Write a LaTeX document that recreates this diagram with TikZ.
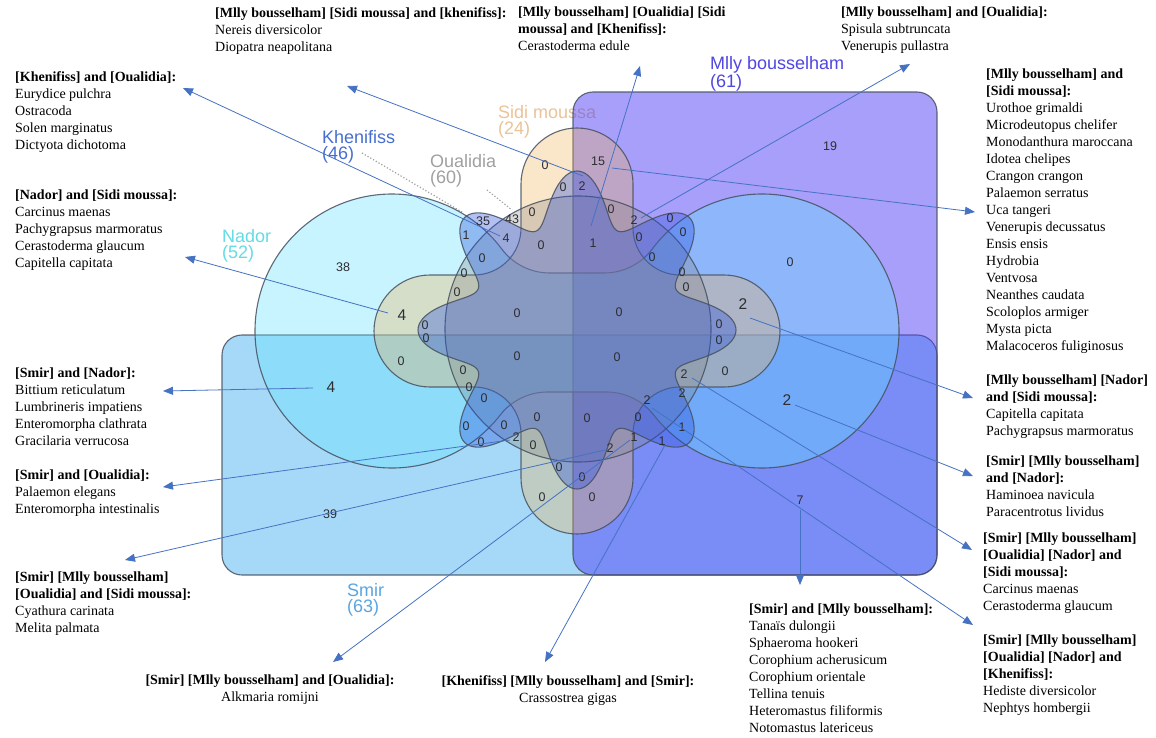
\documentclass[tikz,border=0pt]{standalone}
\usepackage{fontspec}
\setmainfont{Liberation Serif}
\newfontfamily\lsansfont{Liberation Sans}
\usetikzlibrary{arrows.meta}
\definecolor{mllyc}{RGB}{81,65,245}
\definecolor{smirc}{RGB}{77,181,241}
\definecolor{nadorc}{RGB}{98,226,255}
\definecolor{sidic}{RGB}{242,180,92}
\definecolor{oualc}{RGB}{128,128,128}
\definecolor{khenc}{RGB}{40,80,220}
\definecolor{edgec}{RGB}{70,80,95}
\definecolor{arrc}{RGB}{70,114,196}
\definecolor{numc}{RGB}{45,45,50}
\definecolor{lblsidi}{RGB}{235,195,150}
\definecolor{lblmlly}{RGB}{80,70,225}
\definecolor{lblkhen}{RGB}{70,110,210}
\definecolor{lbloual}{RGB}{160,160,160}
\definecolor{lblnador}{RGB}{100,220,230}
\definecolor{lblsmir}{RGB}{90,165,225}
\begin{document}
\begin{tikzpicture}[x=1pt,y=-1pt,
  setshape/.style={draw=edgec, draw opacity=0.85, line width=1.1pt},
  num/.style={font=\lsansfont\fontsize{12.5}{13}\selectfont, text=numc, inner sep=0pt},
  bignum/.style={font=\lsansfont\fontsize{15.5}{16}\selectfont, text=numc, inner sep=0pt},
  setlbl/.style={font=\lsansfont\fontsize{18}{16}\selectfont, align=left, anchor=north west, inner sep=0pt},
  blk/.style={font=\fontsize{14}{17}\selectfont, align=left, anchor=north west, inner sep=0pt},
  cblk/.style={font=\fontsize{14}{17}\selectfont, align=center, anchor=north, inner sep=0pt},
  arr/.style={draw=arrc, line width=0.8pt, -{Triangle[length=10pt,width=8pt]}},
  lead/.style={draw=lbloual, line width=1.2pt, dotted},
]
\useasboundingbox (0,0) rectangle (1156,738);
\fill[white] (0,0) rectangle (1156,738);

% set labels
\node[setlbl, text=lblsidi] (lsidi) at (498,105) {Sidi moussa\\(24)};
\node[setlbl, text=lblmlly] (lmlly) at (710,56) {Mlly bousselham\\(61)};
\node[setlbl, text=lblkhen] (lkhen) at (322,130) {Khenifiss\\(46)};
\node[setlbl, text=lbloual] (loual) at (430,154) {Oualidia\\(60)};
\node[setlbl, text=lblnador] (lnador) at (222,229) {Nador\\(52)};
\node[setlbl, text=lblsmir] (lsmir) at (347,583) {Smir\\(63)};
\coordinate (dk1) at (362,153); \coordinate (dk2) at (462,212);
\coordinate (do1) at (487,190); \coordinate (do2) at (512,210);
\draw[lead] (dk1) -- (dk2);
\draw[lead] (do1) -- (do2);

% shapes
\draw[setshape, fill=smirc, fill opacity=0.5, rounded corners=20pt] (222,335) rectangle (937,575);
\draw[setshape, fill=mllyc, fill opacity=0.5, rounded corners=20pt] (573,92) rectangle (937,575);
% Nador
\draw[setshape, fill=nadorc, fill opacity=0.35]
  (392,331) ++(37.9:137) arc[start angle=37.9, end angle=323.2, radius=137]
  arc[start angle=143.2, end angle=90, radius=60] -- (604.25,273)
  arc[start angle=90, end angle=36.8, radius=60]
  arc[start angle=-143.2, end angle=142.1, radius=137]
  arc[start angle=-37.9, end angle=-90, radius=60] -- (547.46,392)
  arc[start angle=-90, end angle=-142.1, radius=60] -- cycle;
% Sidi moussa
\draw[setshape, fill=sidic, fill opacity=0.33]
  (521,184) arc[start angle=180, end angle=360, radius=56] -- (633,228)
  arc[start angle=180, end angle=90, radius=47] -- (724,275)
  arc[start angle=-90, end angle=90, radius=56] -- (680,387)
  arc[start angle=-90, end angle=-180, radius=47] -- (633,478)
  arc[start angle=0, end angle=180, radius=56] -- (521,434)
  arc[start angle=0, end angle=-90, radius=47] -- (430,387)
  arc[start angle=90, end angle=270, radius=56] -- (474,275)
  arc[start angle=90, end angle=0, radius=47] -- cycle;
% Oualidia
\draw[setshape, fill=oualc, fill opacity=0.28] (578,329) circle[radius=133];
% Khenifiss
\draw[setshape, fill=khenc, fill opacity=0.35]
  plot[domain=0:360, samples=361] ({577+(133+26*cos(8*\x))*cos(\x)},{330+(133+26*cos(8*\x))*sin(\x)}) -- cycle;

% numbers
\node[num] (n1) at (830,146) {19};
\node[num] (n2) at (598,161) {15};
\node[num] (n3) at (545,165) {0};
\node[num] (n4) at (563,187) {0};
\node[num] (n5) at (582,186) {2};
\node[num] (n6) at (483,221) {35};
\node[num] (n7) at (512,219) {43};
\node[num] (n8) at (532,212) {0};
\node[num] (n9) at (466,235) {1};
\node[num] (n10) at (506,238) {4};
\node[num] (n11) at (541,245) {0};
\node[num] (n12) at (593,243) {1};
\node[num] (n13) at (611,209) {0};
\node[num] (n14) at (634,220) {2};
\node[num] (n15) at (670,218) {0};
\node[num] (n16) at (683,232) {0};
\node[num] (n17) at (639,237) {0};
\node[num] (n18) at (652,257) {0};
\node[num] (n19) at (343,267) {38};
\node[num] (n20) at (482,258) {0};
\node[num] (n21) at (464,273) {0};
\node[num] (n22) at (457,292) {0};
\node[num] (n23) at (682,272) {0};
\node[num] (n24) at (686,287) {0};
\node[num] (n25) at (790,262) {0};
\node[bignum] (n26) at (402,315) {4};
\node[num] (n27) at (425,325) {0};
\node[num] (n28) at (426,338) {0};
\node[num] (n29) at (517,313) {0};
\node[num] (n30) at (619,312) {0};
\node[num] (n31) at (517,356) {0};
\node[num] (n32) at (617,357) {0};
\node[bignum] (n33) at (743,304) {2};
\node[num] (n34) at (719,324) {0};
\node[num] (n35) at (719,340) {0};
\node[num] (n36) at (401,361) {0};
\node[bignum] (n37) at (331,387) {4};
\node[num] (n38) at (463,370) {0};
\node[num] (n39) at (469,387) {0};
\node[num] (n40) at (484,398) {0};
\node[num] (n41) at (684,374) {2};
\node[num] (n42) at (725,371) {0};
\node[num] (n43) at (682,393) {2};
\node[num] (n44) at (647,400) {2};
\node[bignum] (n45) at (787,400) {2};
\node[num] (n46) at (466,426) {0};
\node[num] (n47) at (481,442) {0};
\node[num] (n48) at (504,425) {0};
\node[num] (n49) at (516,437) {2};
\node[num] (n50) at (533,445) {0};
\node[num] (n51) at (537,417) {0};
\node[num] (n52) at (587,418) {0};
\node[num] (n53) at (638,417) {0};
\node[num] (n54) at (634,437) {1};
\node[num] (n55) at (662,441) {1};
\node[num] (n56) at (682,427) {1};
\node[num] (n57) at (610,448) {2};
\node[num] (n58) at (559,467) {0};
\node[num] (n59) at (582,477) {0};
\node[num] (n60) at (542,497) {0};
\node[num] (n61) at (592,497) {0};
\node[num] (n62) at (330,514) {39};
\node[num] (n63) at (800,500) {7};

% text blocks
\node[blk] (b1) at (215,7) {\textbf{[Mlly bousselham] [Sidi moussa] and [khenifiss]:}\\Nereis diversicolor\\Diopatra neapolitana};
\node[blk] (b2) at (518,7) {\textbf{[Mlly bousselham] [Oualidia] [Sidi}\\\textbf{moussa] and [Khenifiss]:}\\Cerastoderma edule};
\node[blk] (b3) at (841,7) {\textbf{[Mlly bousselham] and [Oualidia]:}\\Spisula subtruncata\\Venerupis pullastra};
\node[blk] (b4) at (15,71) {\textbf{[Khenifiss] and [Oualidia]:}\\Eurydice pulchra\\Ostracoda\\Solen marginatus\\Dictyota dichotoma};
\node[blk] (b5) at (15,190) {\textbf{[Nador] and [Sidi moussa]:}\\Carcinus maenas\\Pachygrapsus marmoratus\\Cerastoderma glaucum\\Capitella capitata};
\node[blk] (b6) at (986,69) {\textbf{[Mlly bousselham] and}\\\textbf{[Sidi moussa]:}\\Urothoe grimaldi\\Microdeutopus chelifer\\Monodanthura maroccana\\Idotea chelipes\\Crangon crangon\\Palaemon serratus\\Uca tangeri\\Venerupis decussatus\\Ensis ensis\\Hydrobia\\Ventvosa\\Neanthes caudata\\Scoloplos armiger\\Mysta picta\\Malacoceros fuliginosus};
\node[blk] (b7) at (15,368) {\textbf{[Smir] and [Nador]:}\\Bittium reticulatum\\Lumbrineris impatiens\\Enteromorpha clathrata\\Gracilaria verrucosa};
\node[blk] (b8) at (15,470) {\textbf{[Smir] and [Oualidia]:}\\Palaemon elegans\\Enteromorpha intestinalis};
\node[blk] (b9) at (15,572) {\textbf{[Smir] [Mlly bousselham]}\\\textbf{[Oualidia] and [Sidi moussa]:}\\Cyathura carinata\\Melita palmata};
\node[cblk] (b10) at (270,675) {\textbf{[Smir] [Mlly bousselham] and [Oualidia]:}\\Alkmaria romijni};
\node[cblk] (b11) at (568,675) {\textbf{[Khenifiss] [Mlly bousselham] and [Smir]:}\\Crassostrea gigas};
\node[blk] (b12) at (749,604) {\textbf{[Smir] and [Mlly bousselham]:}\\Tanaïs dulongii\\Sphaeroma hookeri\\Corophium acherusicum\\Corophium orientale\\Tellina tenuis\\Heteromastus filiformis\\Notomastus latericeus};
\node[blk] (b13) at (986,375) {\textbf{[Mlly bousselham] [Nador]}\\\textbf{and [Sidi moussa]:}\\Capitella capitata\\Pachygrapsus marmoratus};
\node[blk] (b14) at (986,456) {\textbf{[Smir] [Mlly bousselham]}\\\textbf{and [Nador]:}\\Haminoea navicula\\Paracentrotus lividus};
\node[blk] (b15) at (983,533) {\textbf{[Smir] [Mlly bousselham]}\\\textbf{[Oualidia] [Nador] and}\\\textbf{[Sidi moussa]:}\\Carcinus maenas\\Cerastoderma glaucum};
\node[blk] (b16) at (983,635) {\textbf{[Smir] [Mlly bousselham]}\\\textbf{[Oualidia] [Nador] and}\\\textbf{[Khenifiss]:}\\Hediste diversicolor\\Nephtys hombergii};

% arrows
\coordinate (s1) at (583,176);  \coordinate (e1) at (347,86);
\coordinate (s2) at (591,226);  \coordinate (e2) at (640,66);
\coordinate (s3) at (641,218);  \coordinate (e3) at (910,64);
\coordinate (s4) at (500,236);  \coordinate (e4) at (183,88);
\coordinate (s5) at (388,313);  \coordinate (e5) at (185,257);
\coordinate (s6) at (612,168);  \coordinate (e6) at (975,212);
\coordinate (s7) at (313,388);  \coordinate (e7) at (163,391);
\coordinate (s8) at (510,440);  \coordinate (e8) at (163,487);
\coordinate (s9) at (605,450);  \coordinate (e9) at (125,560);
\coordinate (s10) at (630,440); \coordinate (e10) at (333,662);
\coordinate (s11) at (665,445); \coordinate (e11) at (545,662);
\coordinate (s12) at (800,510); \coordinate (e12) at (800,585);
\coordinate (s13) at (750,318); \coordinate (e13) at (973,398);
\coordinate (s14) at (795,405); \coordinate (e14) at (973,476);
\coordinate (s15) at (692,378); \coordinate (e15) at (972,550);
\coordinate (s16) at (652,408); \coordinate (e16) at (973,625);
\foreach \i in {1,...,16} {\draw[arr] (s\i) -- (e\i);}
\end{tikzpicture}
\end{document}
